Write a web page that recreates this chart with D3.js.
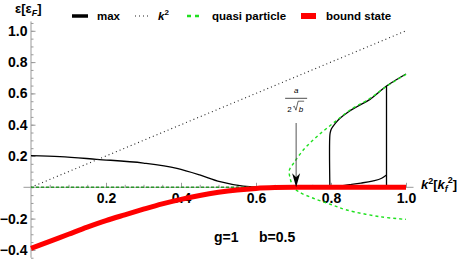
<!DOCTYPE html>
<html>
<head>
<meta charset="utf-8">
<script src="https://cdn.jsdelivr.net/npm/d3@7"></script>
<style>
  body { margin: 0; background: #fff; }
  svg { display: block; font-family: "Liberation Sans", Arial, sans-serif; }
</style>
</head>
<body>
<svg id="chart" width="463" height="260"></svg>
<script>
// dati: [k^2, eps]
const maxLeft = [[0, 0.202], [0.077, 0.196], [0.175, 0.179], [0.3, 0.155], [0.389, 0.121],
  [0.45, 0.079], [0.504, 0.036], [0.566, 0.008], [0.62, 0.001], [0.7, 0], [0.797, 0]];
const maxUpper = [[0.797, 0], [0.797, 0.334], [0.799, 0.36], [0.802, 0.377], [0.812, 0.41],
  [0.824, 0.441], [0.845, 0.48], [0.869, 0.515], [0.904, 0.562], [0.948, 0.647], [1.0, 0.724]];
const maxLower = [[0.797, 0], [0.82, 0.008], [0.85, 0.017], [0.88, 0.027], [0.91, 0.04],
  [0.935, 0.058], [0.948, 0.079]];
const maxJump = [[0.948, 0], [0.948, 0.647]];
const k2Line = [[0, 0], [1, 1]];
const qpFlat = [[0, 0], [0.70, 0]];
const qpCurve = [[1.0, 0.722], [0.948, 0.645], [0.904, 0.568], [0.851, 0.494], [0.806, 0.41],
  [0.762, 0.323], [0.726, 0.238], [0.70, 0.153], [0.689, 0.11], [0.69, 0.068], [0.70, 0.0],
  [0.715, -0.03], [0.753, -0.07], [0.8, -0.11], [0.842, -0.145], [0.931, -0.188], [1.0, -0.205]];
const boundState = [[0, -0.39], [0.05, -0.345], [0.1, -0.3], [0.15, -0.255], [0.2, -0.213],
  [0.25, -0.176], [0.3, -0.14], [0.35, -0.106], [0.4, -0.077], [0.45, -0.052], [0.5, -0.032],
  [0.55, -0.017], [0.6, -0.007], [0.65, -0.002], [0.7, 0], [1.0, 0]];
const xTicks = [0.2, 0.4, 0.6, 0.8, 1.0];
const yTicks = [-0.4, -0.2, 0.2, 0.4, 0.6, 0.8, 1.0];
const legendLabels = ["max", "k2", "quasi particle", "bound state"];
const arrowK = 0.707;

const svg = d3.select("#chart");
const x = d3.scaleLinear().domain([0, 1]).range([31, 406]);
const y = d3.scaleLinear().domain([0, 1]).range([187.3, 30.8]);

const green = "#1fe01f";
const axisGray = "#9a9a9a";

// assi
svg.append("line")
  .attr("x1", x(-0.02)).attr("x2", x(1.02))
  .attr("y1", y(0)).attr("y2", y(0))
  .attr("stroke", axisGray);
svg.append("line")
  .attr("x1", x(0)).attr("x2", x(0))
  .attr("y1", y(1.06)).attr("y2", y(-0.45))
  .attr("stroke", axisGray);

const minorX = d3.range(0.05, 1.001, 0.05);
const minorY = d3.range(-0.45, 1.051, 0.05);

const gxMinor = svg.append("g").attr("transform", `translate(0,${y(0)})`)
  .call(d3.axisBottom(x).tickValues(minorX).tickSize(-2.5).tickFormat(""));
const gx = svg.append("g").attr("transform", `translate(0,${y(0)})`)
  .call(d3.axisBottom(x).tickValues(xTicks).tickSize(-4.5).tickPadding(5.8).tickFormat(d3.format(".1f")));
const gyMinor = svg.append("g").attr("transform", `translate(${x(0)},0)`)
  .call(d3.axisLeft(y).tickValues(minorY).tickSize(-2.5).tickFormat(""));
const gy = svg.append("g").attr("transform", `translate(${x(0)},0)`)
  .call(d3.axisLeft(y).tickValues(yTicks).tickSize(-4.5).tickPadding(3.5).tickFormat(d3.format(".1f")));

[gxMinor, gx, gyMinor, gy].forEach(g => {
  g.select(".domain").remove();
  g.selectAll(".tick line").attr("stroke", axisGray);
  g.selectAll("text").attr("font-size", 14).attr("font-weight", "bold")
    .attr("fill", "#000").attr("font-family", "Liberation Sans, Arial, sans-serif");
});
gy.selectAll("text").text(d => d3.format(".1f")(d).replace("-", "\u2212"));

const line = d3.line().x(d => x(d[0])).y(d => y(d[1]));
const mono = d3.line().x(d => x(d[0])).y(d => y(d[1])).curve(d3.curveMonotoneX);
const smooth = d3.line().x(d => x(d[0])).y(d => y(d[1])).curve(d3.curveCatmullRom.alpha(0.5));

// max
svg.append("path").attr("d", mono(maxLeft)).attr("fill", "none").attr("stroke", "#000").attr("stroke-width", 1.3);
svg.append("path").attr("d", smooth(maxUpper)).attr("fill", "none").attr("stroke", "#000").attr("stroke-width", 1.3);
svg.append("path").attr("d", mono(maxLower)).attr("fill", "none").attr("stroke", "#000").attr("stroke-width", 1.3);
svg.append("path").attr("d", line(maxJump)).attr("fill", "none").attr("stroke", "#000").attr("stroke-width", 1.3);

// k^2
svg.append("path").attr("d", line(k2Line)).attr("fill", "none")
  .attr("stroke", "#222").attr("stroke-width", 1.1).attr("stroke-dasharray", "1,3");

// quasi particle
svg.append("path").attr("d", line(qpFlat)).attr("fill", "none")
  .attr("stroke", "#2a9a2a").attr("stroke-width", 1.6).attr("stroke-dasharray", "3,2");
svg.append("path").attr("d", smooth(qpCurve)).attr("fill", "none")
  .attr("stroke", green).attr("stroke-width", 1.4).attr("stroke-dasharray", "3,3");

// bound state
svg.append("path").attr("d", mono(boundState)).attr("fill", "none")
  .attr("stroke", "#ff0000").attr("stroke-width", 5);

// freccia a/(2 sqrt b)
svg.append("line")
  .attr("x1", x(arrowK)).attr("x2", x(arrowK))
  .attr("y1", 123).attr("y2", y(0) - 10)
  .attr("stroke", "#555").attr("stroke-width", 1);
svg.append("path")
  .attr("d", `M${x(arrowK)},${y(0)} L${x(arrowK) - 4},${y(0) - 14} L${x(arrowK)},${y(0) - 10} L${x(arrowK) + 4},${y(0) - 14} Z`)
  .attr("fill", "#000");
const fx = x(arrowK);
svg.append("text").attr("x", fx).attr("y", 93).attr("text-anchor", "middle")
  .attr("font-size", 8).attr("font-style", "italic").text("a");
svg.append("line").attr("x1", fx - 11).attr("x2", fx + 11).attr("y1", 98.3).attr("y2", 98.3)
  .attr("stroke", "#000").attr("stroke-width", 0.7);
svg.append("text").attr("x", fx - 9).attr("y", 111.5).attr("font-size", 8).text("2");
svg.append("path").attr("d", `M${fx - 3},${107} l1.2,-0.8 l1.6,4 l2.2,-9 h6`)
  .attr("fill", "none").attr("stroke", "#000").attr("stroke-width", 0.6);
svg.append("text").attr("x", fx + 2.5).attr("y", 111.5).attr("font-size", 8).attr("font-style", "italic").text("b");

// etichette assi
const yl = svg.append("text").attr("x", 15).attr("y", 13).attr("font-size", 13).attr("font-weight", "bold");
yl.append("tspan").text("\u03b5[\u03b5");
yl.append("tspan").attr("font-size", 9).attr("font-style", "italic").attr("dy", 3).text("F");
yl.append("tspan").attr("dy", -3).text("]");

const xl = svg.append("text").attr("x", 421).attr("y", 189).attr("font-size", 13).attr("font-weight", "bold");
xl.append("tspan").attr("font-style", "italic").text("k");
xl.append("tspan").attr("font-size", 9).attr("dy", -5).text("2");
xl.append("tspan").attr("dy", 5).text("[");
xl.append("tspan").attr("font-style", "italic").text("k");
xl.append("tspan").attr("font-size", 9).attr("font-style", "italic").attr("dy", 3).text("f");
xl.append("tspan").attr("font-size", 9).attr("dy", -9).text("2");
xl.append("tspan").attr("dy", 6).text("]");

svg.append("text").attr("x", 214).attr("y", 242).attr("font-size", 14).attr("font-weight", "bold").text("g=1");
svg.append("text").attr("x", 259).attr("y", 242).attr("font-size", 14).attr("font-weight", "bold").text("b=0.5");

// legenda
const ly = 16;
svg.append("line").attr("x1", 72).attr("x2", 88).attr("y1", ly).attr("y2", ly).attr("stroke", "#000").attr("stroke-width", 3.5);
svg.append("text").attr("x", 97).attr("y", ly + 4).attr("font-size", 11.5).attr("font-weight", "bold").text(legendLabels[0]);
svg.append("line").attr("x1", 135).attr("x2", 150).attr("y1", ly).attr("y2", ly).attr("stroke", "#222").attr("stroke-width", 1.1).attr("stroke-dasharray", "1,3");
const lk = svg.append("text").attr("x", 158).attr("y", ly + 4).attr("font-size", 11.5).attr("font-weight", "bold");
lk.append("tspan").attr("font-style", "italic").text("k");
lk.append("tspan").attr("font-size", 8).attr("dy", -5).text("2");
svg.append("line").attr("x1", 187).attr("x2", 203).attr("y1", ly).attr("y2", ly).attr("stroke", green).attr("stroke-width", 2.5).attr("stroke-dasharray", "4,4");
svg.append("text").attr("x", 212).attr("y", ly + 4).attr("font-size", 11.5).attr("font-weight", "bold").text(legendLabels[2]);
svg.append("rect").attr("x", 301).attr("y", ly - 3).attr("width", 15).attr("height", 6).attr("fill", "#ff0000");
svg.append("text").attr("x", 326).attr("y", ly + 4).attr("font-size", 11.5).attr("font-weight", "bold").text(legendLabels[3]);
</script>
</body>
</html>
